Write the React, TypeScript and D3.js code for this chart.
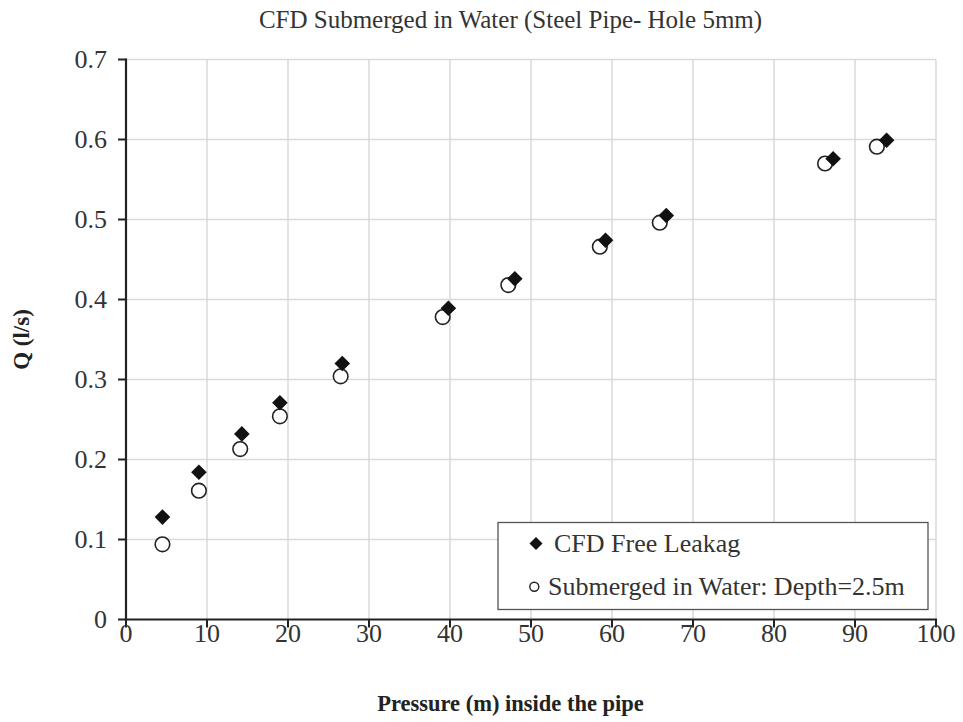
import React from "react";
import * as d3 from "d3";

// Pressure (m) and discharge Q (l/s) for the two cases
const freePressure = [4.5, 9.0, 14.3, 19.0, 26.7, 39.8, 48.0, 59.2, 66.7, 87.3, 93.9];
const freeQ = [0.128, 0.184, 0.232, 0.271, 0.32, 0.389, 0.426, 0.474, 0.505, 0.576, 0.599];
const subPressure = [4.5, 9.0, 14.1, 19.0, 26.5, 39.1, 47.2, 58.5, 65.9, 86.3, 92.7];
const subQ = [0.094, 0.161, 0.213, 0.254, 0.304, 0.378, 0.418, 0.466, 0.496, 0.57, 0.591];

const xTicks = [0, 10, 20, 30, 40, 50, 60, 70, 80, 90, 100];
const yTicks = [0, 0.1, 0.2, 0.3, 0.4, 0.5, 0.6, 0.7];

const titleText = "CFD Submerged in Water (Steel Pipe- Hole 5mm)";
const xLabel = "Pressure (m) inside the pipe";
const yLabel = "Q (l/s)";
const legendLabels = ["CFD Free Leakag", "Submerged in Water: Depth=2.5m"];

const W = 963;
const H = 722;
const left = 126;
const right = 936;
const top = 59.5;
const bottom = 619.5;
const serif = { fontFamily: "'Liberation Serif', 'Times New Roman', serif" };

export default function App() {
  const x = d3.scaleLinear().domain([0, 100]).range([left, right]);
  const y = d3.scaleLinear().domain([0, 0.7]).range([bottom, top]);
  const diamond = (cx: number, cy: number, r: number) =>
    `M${cx},${cy - r}L${cx + r},${cy}L${cx},${cy + r}L${cx - r},${cy}Z`;

  return (
    <svg
      width={W}
      height={H}
      style={{ position: "absolute", left: 0, top: 0, background: "#fff" }}
    >
      <rect width={W} height={H} fill="#fff" />
      {/* grid */}
      {xTicks.slice(1).map((t) => (
        <line key={"gx" + t} x1={x(t)} x2={x(t)} y1={top} y2={bottom} stroke="#d9d9d9" strokeWidth={1.5} />
      ))}
      {yTicks.slice(1).map((t) => (
        <line key={"gy" + t} x1={left} x2={right} y1={y(t)} y2={y(t)} stroke="#d9d9d9" strokeWidth={1.5} />
      ))}
      {/* axes */}
      <line x1={left} x2={left} y1={top - 1} y2={bottom + 1} stroke="#222" strokeWidth={2.2} />
      <line x1={left - 1} x2={right + 1} y1={bottom} y2={bottom} stroke="#222" strokeWidth={2.2} />
      {yTicks.map((t) => (
        <g key={"ty" + t}>
          <line x1={left - 8} x2={left} y1={y(t)} y2={y(t)} stroke="#222" strokeWidth={2} />
          <text x={left - 19} y={y(t) + 8.5} textAnchor="end" fontSize={26} fill="#333" style={serif}>
            {d3.format("")(t)}
          </text>
        </g>
      ))}
      {xTicks.map((t) => (
        <g key={"tx" + t}>
          <line x1={x(t)} x2={x(t)} y1={bottom} y2={bottom + 8} stroke="#222" strokeWidth={2} />
          <text x={x(t)} y={bottom + 22} textAnchor="middle" fontSize={26} fill="#333" style={serif}>
            {t}
          </text>
        </g>
      ))}
      {/* series */}
      {subPressure.map((p, i) => (
        <circle key={"c" + i} cx={x(p)} cy={y(subQ[i])} r={7.3} fill="#fff" stroke="#222" strokeWidth={1.6} />
      ))}
      {freePressure.map((p, i) => (
        <path key={"d" + i} d={diamond(x(p), y(freeQ[i]), 7.8)} fill="#111" />
      ))}
      {/* legend */}
      <rect x={498} y={522.5} width={430} height={87} fill="#fff" stroke="#555" strokeWidth={1.3} />
      <path d={diamond(536, 543.5, 6.5)} fill="#111" />
      <text x={554} y={552} fontSize={26} fill="#333" style={serif}>{legendLabels[0]}</text>
      <circle cx={534.3} cy={586.7} r={4.5} fill="#fff" stroke="#222" strokeWidth={1.4} />
      <text x={548} y={595} fontSize={26} fill="#333" style={serif}>{legendLabels[1]}</text>
      {/* titles */}
      <text x={510.5} y={28} textAnchor="middle" fontSize={25} fill="#333" style={serif}>{titleText}</text>
      <text x={510.5} y={711} textAnchor="middle" fontSize={22.5} fontWeight="bold" fill="#222" style={serif}>{xLabel}</text>
      <text transform={`translate(29,${(top + bottom) / 2}) rotate(-90)`} textAnchor="middle" fontSize={23} fontWeight="bold" fill="#222" style={serif}>{yLabel}</text>
    </svg>
  );
}
